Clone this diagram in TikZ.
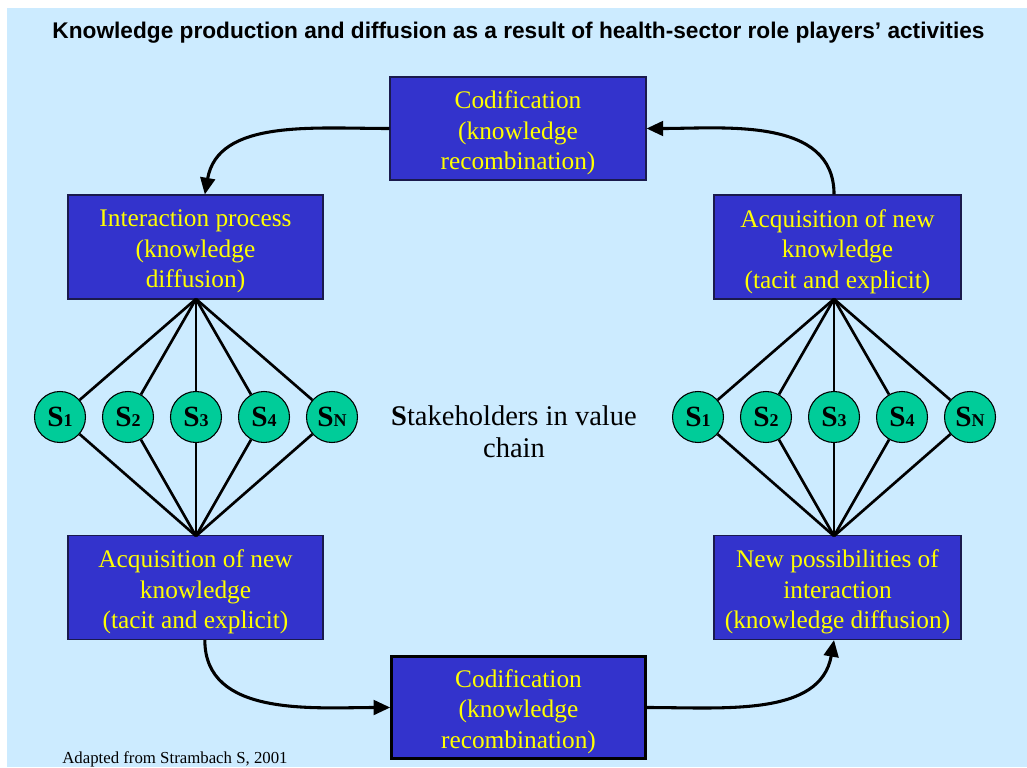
\documentclass[tikz,border=0pt]{standalone}
\usepackage{fontspec}
\setmainfont{Liberation Serif}
\newfontfamily\titlefont{Liberation Sans}
\usetikzlibrary{arrows.meta}
\definecolor{bgblue}{HTML}{CCEBFF}
\definecolor{boxblue}{HTML}{3333CC}
\definecolor{txtyellow}{HTML}{FFFF00}
\definecolor{circgreen}{HTML}{00CC99}
\definecolor{boxedge}{HTML}{1A1A4D}
\begin{document}
\begin{tikzpicture}[x=0.75pt,y=-0.75pt,
  box/.style={draw=boxedge, line width=0.8pt, fill=boxblue, inner sep=0pt},
  wbox/.style={box, minimum width=191.25pt, minimum height=78pt},
  nbox/.style={box, minimum width=185.25pt, minimum height=78pt},
  boxtxt/.style={text=txtyellow, align=center, inner sep=0pt, font=\fontsize{19}{22.9}\selectfont},
  stk/.style={circle, draw=black, line width=0.8pt, fill=circgreen, minimum size=38.25pt, inner sep=0pt,
    font=\fontsize{22}{22}\selectfont\bfseries},
  spoke/.style={line width=2pt},
  flow/.style={line width=2.3pt, -{Triangle[length=12.5pt,width=11pt]}}
]
\useasboundingbox (0,0) rectangle (1027,767);
\fill[bgblue] (7,8) rectangle (1027,767);

\node[font=\titlefont\bfseries\fontsize{17}{20}\selectfont] (title) at (518.5,33)
  {Knowledge production and diffusion as a result of health-sector role players’ activities};

\node[wbox, minimum width=192pt, minimum height=77.25pt] (topcod) at (518,128.5) {};
\node[boxtxt] (topcodT) at ([yshift=-3.4pt]topcod.center) {Codification\\(knowledge\\recombination)};
\node[wbox] (inter) at (195.5,247) {};
\node[boxtxt] (interT) at ([yshift=-3.4pt]inter.center) {Interaction process\\(knowledge\\diffusion)};
\node[nbox] (acqR) at (837.5,247) {};
\node[boxtxt] (acqRT) at ([yshift=-3.4pt]acqR.center) {Acquisition of new\\knowledge\\(tacit and explicit)};
\node[wbox] (acqL) at (195.5,587.5) {};
\node[boxtxt] (acqLT) at ([yshift=-3.4pt]acqL.center) {Acquisition of new\\knowledge\\(tacit and explicit)};
\node[nbox] (newp) at (837.5,587.5) {};
\node[boxtxt] (newpT) at ([yshift=-3.4pt]newp.center) {New possibilities of\\interaction\\(knowledge diffusion)};
\node[box, draw=black, line width=2.4pt, minimum width=190pt, minimum height=76.5pt] (botcod) at (518.5,707.5) {};
\node[boxtxt] (botcodT) at ([yshift=-3pt]botcod.center) {Codification\\(knowledge\\recombination)};

\newcommand{\subn}[1]{{\fontsize{13.5}{14}\selectfont #1}}
\node[stk] (l1) at (60,417) {S\subn{1}};
\node[stk] (l2) at (128,417) {S\subn{2}};
\node[stk] (l3) at (196,417) {S\subn{3}};
\node[stk] (l4) at (264,417) {S\subn{4}};
\node[stk] (l5) at (332,417) {S\subn{N}};
\node[stk] (r1) at (698,417) {S\subn{1}};
\node[stk] (r2) at (766,417) {S\subn{2}};
\node[stk] (r3) at (834,417) {S\subn{3}};
\node[stk] (r4) at (902,417) {S\subn{4}};
\node[stk] (r5) at (970,417) {S\subn{N}};

\coordinate (hubLt) at (196,299);
\coordinate (hubLb) at (196,536);
\coordinate (hubRt) at (834,299);
\coordinate (hubRb) at (834,536);
\foreach \n in {l1,l2,l3,l4,l5}{
  \draw[spoke] (hubLt) -- (\n);
  \draw[spoke] (\n) -- (hubLb);
}
\foreach \n in {r1,r2,r3,r4,r5}{
  \draw[spoke] (hubRt) -- (\n);
  \draw[spoke] (\n) -- (hubRb);
}

\node[align=center, font=\fontsize{21.4}{24}\selectfont] (stake) at (514,432)
  {\textbf{S}takeholders in value\\chain};

\node[anchor=south west, font=\fontsize{12.6}{14}\selectfont, inner sep=0pt] (src) at (62,767)
  {Adapted from Strambach S, 2001};

\draw[flow] (topcod.west) to[out=180,in=80] ([xshift=7pt]inter.north);
\draw[flow] ([xshift=-2.6pt]acqR.north) to[out=90,in=0] (topcod.east);
\draw[flow] ([xshift=7pt]acqL.south) to[out=-90,in=180] (botcod.west);
\draw[flow] (botcod.east) to[out=0,in=-100] ([xshift=-2.6pt]newp.south);
\end{tikzpicture}
\end{document}
